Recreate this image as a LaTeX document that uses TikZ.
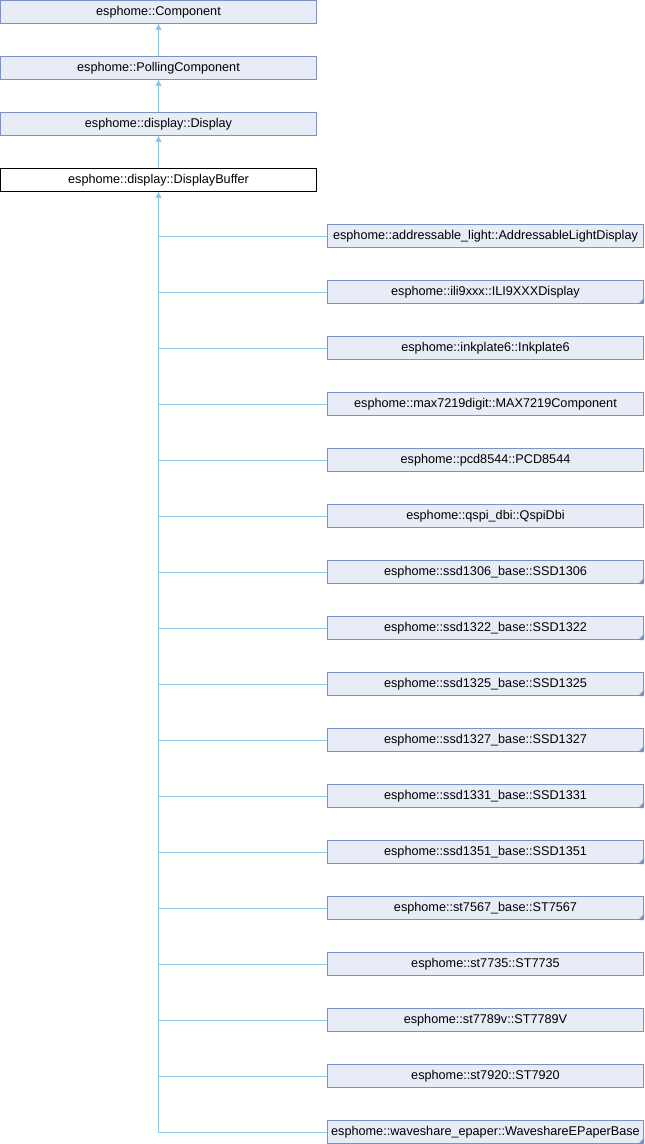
\documentclass[tikz,border=0pt]{standalone}
\usepackage{fontspec}
\setmainfont{Liberation Sans}
\usetikzlibrary{arrows.meta}

\definecolor{boxfill}{HTML}{E8ECF6}
\definecolor{boxline}{HTML}{7E91C6}
\definecolor{edgeblue}{HTML}{8CC8E8}

\tikzset{
  cls/.style={draw=boxline,fill=boxfill,line width=0.75pt,minimum width=237pt,
    minimum height=17.25pt,inner sep=0pt,font=\fontsize{9.5}{11}\selectfont},
  clscur/.style={cls,draw=black,fill=white},
  edge/.style={draw=edgeblue,line width=0.75pt},
  inherit/.style={edge,-{Triangle[length=4.5pt,width=4.5pt,fill=edgeblue]}}
}

\begin{document}
\begin{tikzpicture}[x=0.75pt,y=-0.75pt]

\useasboundingbox (0,0) rectangle (644,1144);

\node[cls] (comp) at (158.5,12) {esphome::Component};
\node[cls] (poll) at (158.5,68) {esphome::PollingComponent};
\node[cls] (disp) at (158.5,124) {esphome::display::Display};
\node[clscur] (buf) at (158.5,180) {esphome::display::DisplayBuffer};

\draw[inherit] (poll.north) -- (comp.south);
\draw[inherit] (disp.north) -- (poll.south);
\draw[inherit] (buf.north) -- (disp.south);

\foreach \name/\mark [count=\i] in {
  esphome::addressable\_light::AddressableLightDisplay/0,
  esphome::ili9xxx::ILI9XXXDisplay/1,
  esphome::inkplate6::Inkplate6/0,
  esphome::max7219digit::MAX7219Component/0,
  esphome::pcd8544::PCD8544/0,
  esphome::qspi\_dbi::QspiDbi/0,
  esphome::ssd1306\_base::SSD1306/1,
  esphome::ssd1322\_base::SSD1322/1,
  esphome::ssd1325\_base::SSD1325/1,
  esphome::ssd1327\_base::SSD1327/1,
  esphome::ssd1331\_base::SSD1331/1,
  esphome::ssd1351\_base::SSD1351/1,
  esphome::st7567\_base::ST7567/1,
  esphome::st7735::ST7735/0,
  esphome::st7789v::ST7789V/0,
  esphome::st7920::ST7920/0,
  esphome::waveshare\_epaper::WaveshareEPaperBase/1}
{
\node[cls] (c\i) at (485.5,180+56*\i) {\name};
\coordinate (j\i) at (158.5,180.5+56*\i);
\draw[edge] (j\i) -- (j\i -| c\i.west);
\ifnum\mark=1
  \fill[boxline] (c\i.south east) -- ++(-6,0) -- ++(6,-6) -- cycle;
\fi
}

\draw[inherit] (j17) -- (buf.south);

\end{tikzpicture}
\end{document}
